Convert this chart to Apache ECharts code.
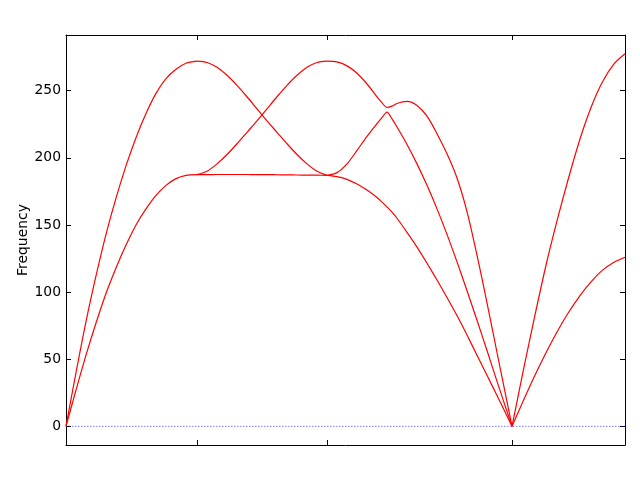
<!DOCTYPE html>
<html><head><meta charset="utf-8">
<script src="https://cdn.jsdelivr.net/npm/echarts@6/dist/echarts.min.js"></script>
<style>html,body{margin:0;padding:0;background:#fff}#c{width:640px;height:480px}</style>
</head><body><div id="c"></div>
<script>
// k-path distance samples for each segment
const kSeg1 = [0,10,20,30,40,50,60,70,80,90,100,110,120,131];
const kSeg2 = [131,141,151,161,171,181,191,201,211,221,231,241,251,261];
const kSeg3 = [261,271,281,291,301,311,316,321,326,331,341,351,361,371,381,391,401,411,421,431,446];
const kSeg4 = [446,457,468,480,491,502,514,525,536,548,559];
const kTicks = [131,261,446];
const kMax = 559;
const yTicks = [0,50,100,150,200,250];

// frequencies
const seg1Upper = [0,40,78,112,143,170,194,215,233,248,259,266,270.5,272];
const seg1Lower = [0,27,53,77,99,118,135,150,162,172,179.5,184.5,187,187.5];
const seg2Flat    = [187.5,187.5,187.6,187.6,187.6,187.6,187.5,187.5,187.4,187.3,187.2,187.1,187.05,187];
const seg2Rising  = [187.5,190,195.5,202.5,210.5,219,227.5,236.5,245.5,254,261.5,267.5,271,272];
const seg2Falling = [272,271,267.5,261.5,254,245.5,236.5,227.5,219,210.5,202.5,195.5,190,187];
const seg3Upper  = [272,271.5,268.5,263,255,245.5,241,237.5,238.5,240.5,242,239,231,218,203,185,160,127.5,92,55,0];
const seg3Middle = [187,189,195.5,205.5,216,225.5,230,234,229,223,210,195.5,179.5,162,143,122.5,101,79,56.5,33.5,0];
const seg3Lower  = [187,186,184,180.5,176,170.5,167,163.5,159.5,155,144.5,133.5,121.5,109,96,82.5,68,53,38,23,0];
const seg4Upper = [0,40.5,79.5,120,153,183.5,214,237.5,256,270,277.6];
const seg4Lower = [0,18.6,36.6,54.8,70.3,84.2,97.4,107.6,116,122.2,126];

function pts(xs, ys){ return xs.map((x,i)=>[x, ys[i]]); }
const bands = [
  pts(kSeg1, seg1Upper), pts(kSeg1, seg1Lower),
  pts(kSeg2, seg2Flat), pts(kSeg2, seg2Rising), pts(kSeg2, seg2Falling),
  pts(kSeg3, seg3Upper), pts(kSeg3, seg3Middle), pts(kSeg3, seg3Lower),
  pts(kSeg4, seg4Upper), pts(kSeg4, seg4Lower)
];

const font = 'DejaVu Sans';
const series = bands.map(d => ({
  type:'line', data:d, showSymbol:false, smooth:0.3, animation:false,
  lineStyle:{color:'#ff0000', width:1.2}, z:3
}));
series.push({
  type:'line', data:[[0,0],[kMax,0]], showSymbol:false, animation:false,
  lineStyle:{color:'rgba(0,0,255,0.75)', width:0.7, type:[1.5,1.5]}, z:2
});

const tickStyle = {show:true, inside:true, length:5, lineStyle:{color:'#000', width:1}};
const lineStyle = {show:true, onZero:false, lineStyle:{color:'#000', width:1}};

const chart = echarts.init(document.getElementById('c'), null, {renderer:'canvas'});
chart.setOption({
  backgroundColor:'#fff',
  animation:false,
  grid:{left:66, right:15, top:35, bottom:35, containLabel:false},
  xAxis:[
    {type:'value', min:0, max:kMax, position:'bottom', axisLine:lineStyle,
     axisTick:Object.assign({customValues:kTicks}, tickStyle),
     axisLabel:{show:false}, splitLine:{show:false}},
    {type:'value', min:0, max:kMax, position:'top', axisLine:lineStyle,
     axisTick:Object.assign({customValues:kTicks}, tickStyle),
     axisLabel:{show:false}, splitLine:{show:false}}
  ],
  yAxis:[
    {type:'value', min:-13.9, max:291.5, position:'left', axisLine:lineStyle,
     axisTick:Object.assign({customValues:yTicks}, tickStyle),
     axisLabel:{customValues:yTicks, color:'#000', fontFamily:font, fontSize:13.9, margin:5},
     splitLine:{show:false},
     name:'Frequency', nameLocation:'middle', nameGap:36, nameMoveOverlap:false,
     nameTextStyle:{color:'#000', fontFamily:font, fontSize:13.9}},
    {type:'value', min:-13.9, max:291.5, position:'right', axisLine:lineStyle,
     axisTick:Object.assign({customValues:yTicks}, tickStyle),
     axisLabel:{show:false}, splitLine:{show:false}}
  ],
  series: series
});
</script></body></html>
